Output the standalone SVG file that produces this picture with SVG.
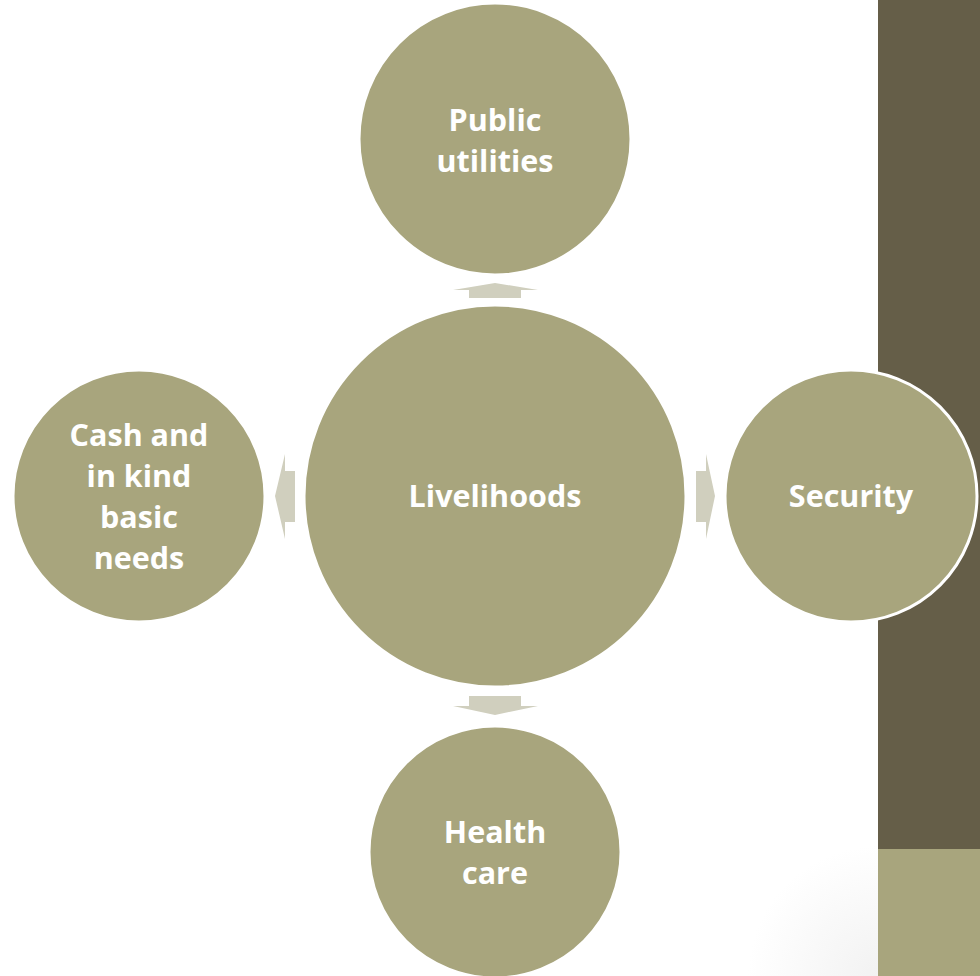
<svg xmlns="http://www.w3.org/2000/svg" width="980" height="976" viewBox="0 0 980 976">
<defs>
<style>
.node{fill:#A8A57D;stroke:#FFFFFF;stroke-width:3}
.lbl{font-family:"Open Sans","Liberation Sans",sans-serif;font-weight:bold;font-size:30.5px;fill:#FFFFFF;text-anchor:middle}
.arr{fill:#D0CFBE}
</style>
<radialGradient id="bg" cx="878" cy="976" r="130" gradientUnits="userSpaceOnUse">
<stop offset="0" stop-color="#F2F2F2"/>
<stop offset="1" stop-color="#FFFFFF"/>
</radialGradient>
</defs>
<rect x="0" y="0" width="980" height="976" fill="#FFFFFF"/>
<rect x="740" y="840" width="240" height="136" fill="url(#bg)"/>
<rect x="878" y="0" width="102" height="849" fill="#655E48"/>
<rect x="878" y="849" width="102" height="127" fill="#A8A57D"/>
<g id="connectors">
<polygon class="arr" points="469,298 469,290 453,290 495,283 538,290 521,290 521,298"/>
<polygon class="arr" points="469,696 521,696 521,706 538,706 495,715 453,706 469,706"/>
<polygon class="arr" points="295,471 295,522 285,522 285,539 275,496 285,454 285,471"/>
<polygon class="arr" points="696,471 706,471 706,454 715,496 706,539 706,522 696,522"/>
</g>
<g id="public-utilities">
<circle class="node" cx="495" cy="139" r="136"/>
<text class="lbl" x="495" y="131">Public</text>
<text class="lbl" x="495" y="172">utilities</text>
</g>
<g id="livelihoods">
<circle class="node" cx="495" cy="496" r="191"/>
<text class="lbl" x="495" y="507">Livelihoods</text>
</g>
<g id="cash">
<circle class="node" cx="139" cy="496" r="126"/>
<text class="lbl" x="139" y="446">Cash and</text>
<text class="lbl" x="139" y="487">in kind</text>
<text class="lbl" x="139" y="528">basic</text>
<text class="lbl" x="139" y="569">needs</text>
</g>
<g id="security">
<circle class="node" cx="851" cy="496" r="126"/>
<text class="lbl" x="851" y="507">Security</text>
</g>
<g id="health-care">
<circle class="node" cx="495" cy="852" r="126"/>
<text class="lbl" x="495" y="843">Health</text>
<text class="lbl" x="495" y="884">care</text>
</g>
</svg>
